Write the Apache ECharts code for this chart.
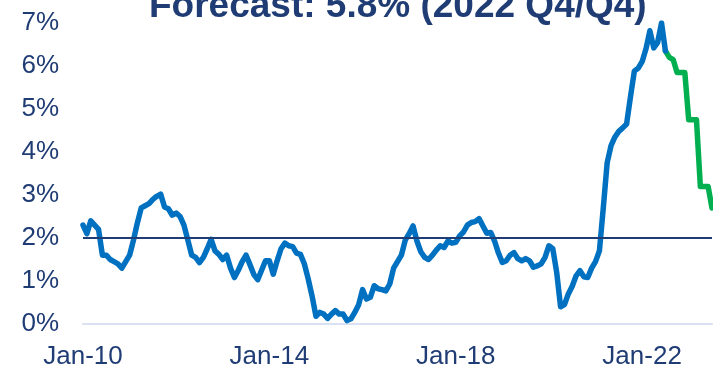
<!DOCTYPE html>
<html>
<head>
<meta charset="utf-8">
<script src="https://cdn.jsdelivr.net/npm/echarts@6/dist/echarts.min.js"></script>
<style>
  html, body { margin: 0; padding: 0; background: #fff; }
  #chart { width: 713px; height: 370px; }
</style>
</head>
<body>
<div id="chart"></div>
<script>
// monthly, Jan-10 .. Jul-22 (actual)
var actual = [
  2.3, 2.1, 2.4, 2.3, 2.2, 1.6, 1.6, 1.5, 1.45, 1.4, 1.3, 1.45,
  1.6, 1.95, 2.35, 2.7, 2.75, 2.8, 2.9, 2.97, 3.02, 2.72, 2.68, 2.53,
  2.58, 2.5, 2.3, 1.95, 1.6, 1.55, 1.43, 1.55, 1.75, 1.97, 1.7, 1.62,
  1.5, 1.6, 1.3, 1.08, 1.25, 1.45, 1.6, 1.38, 1.15, 1.03, 1.25, 1.47,
  1.47, 1.16, 1.47, 1.75, 1.88, 1.82, 1.8, 1.65, 1.62, 1.4, 1.05, 0.65,
  0.18, 0.27, 0.23, 0.13, 0.23, 0.31, 0.23, 0.23, 0.08, 0.12, 0.27, 0.45,
  0.8, 0.58, 0.62, 0.89, 0.82, 0.8, 0.77, 0.93, 1.3, 1.45, 1.6, 1.95,
  2.1, 2.28, 1.93, 1.68, 1.55, 1.5, 1.6, 1.72, 1.82, 1.78, 1.93, 1.88,
  1.9, 2.05, 2.14, 2.3, 2.36, 2.38, 2.45, 2.28, 2.11, 2.13, 1.93, 1.65,
  1.43, 1.47, 1.6, 1.66, 1.52, 1.47, 1.52, 1.47, 1.32, 1.35, 1.4, 1.55,
  1.82, 1.75, 1.2, 0.4, 0.45, 0.7, 0.88, 1.12, 1.24, 1.1, 1.08, 1.3,
  1.45, 1.7, 2.7, 3.75, 4.15, 4.35, 4.48, 4.56, 4.65, 5.28, 5.88, 5.95,
  6.1, 6.4, 6.82, 6.42, 6.55, 7.0, 6.35
];
// forecast path, Jul-22 .. Jul-23
var forecast = [6.35, 6.2, 6.15, 5.85, 5.85, 5.85, 4.75, 4.75, 4.75, 3.2, 3.2, 3.2, 2.7];
var targetRate = 2;
var tickLabels = ['Jan-10', 'Jan-14', 'Jan-18', 'Jan-22'];
var titleText = 'Forecast: 5.8% (2022 Q4/Q4)';

var monthNames = ['Jan', 'Feb', 'Mar', 'Apr', 'May', 'Jun', 'Jul', 'Aug', 'Sep', 'Oct', 'Nov', 'Dec'];
var totalMonths = actual.length - 1 + forecast.length;
var months = [];
for (var i = 0; i < totalMonths; i++) {
  var yy = 10 + Math.floor(i / 12);
  months.push(monthNames[i % 12] + '-' + yy);
}
var forecastSeries = [];
for (var j = 0; j < totalMonths; j++) {
  var k = j - (actual.length - 1);
  forecastSeries.push(k >= 0 ? forecast[k] : null);
}

var navy = '#1F3C74';
var font = '"Liberation Sans", Arial, sans-serif';

var chart = echarts.init(document.getElementById('chart'));
chart.setOption({
  animation: false,
  title: {
    text: titleText,
    left: 144,
    top: -17,
    textStyle: { fontSize: 37, fontWeight: 'bold', color: navy, fontFamily: font }
  },
  grid: { left: 83, right: 1, top: 23, bottom: 45 },
  xAxis: {
    type: 'category',
    data: months,
    boundaryGap: false,
    axisLine: { lineStyle: { color: '#D9E1F2', width: 2 } },
    axisTick: { show: false },
    axisLabel: {
      interval: function (idx, val) { return tickLabels.indexOf(val) >= 0; },
      color: navy, fontSize: 26, fontFamily: font, margin: 20
    },
    splitLine: { show: false }
  },
  yAxis: {
    type: 'value',
    min: 0, max: 7, interval: 1,
    axisLine: { show: false },
    axisTick: { show: false },
    splitLine: { show: false },
    axisLabel: { formatter: '{value}%', color: navy, fontSize: 26, fontFamily: font, margin: 24 }
  },
  series: [
    {
      type: 'line', data: [], z: 1,
      markLine: {
        silent: true, symbol: 'none', label: { show: false },
        lineStyle: { color: navy, width: 2, type: 'solid' },
        data: [{ yAxis: targetRate }]
      }
    },
    {
      type: 'line', data: actual, showSymbol: false, z: 3,
      lineStyle: { color: '#0070C0', width: 5.5, join: 'round', cap: 'round' }
    },
    {
      type: 'line', data: forecastSeries, showSymbol: false, z: 2,
      lineStyle: { color: '#00B050', width: 5.5, join: 'round', cap: 'round' }
    }
  ]
});
</script>
</body>
</html>
